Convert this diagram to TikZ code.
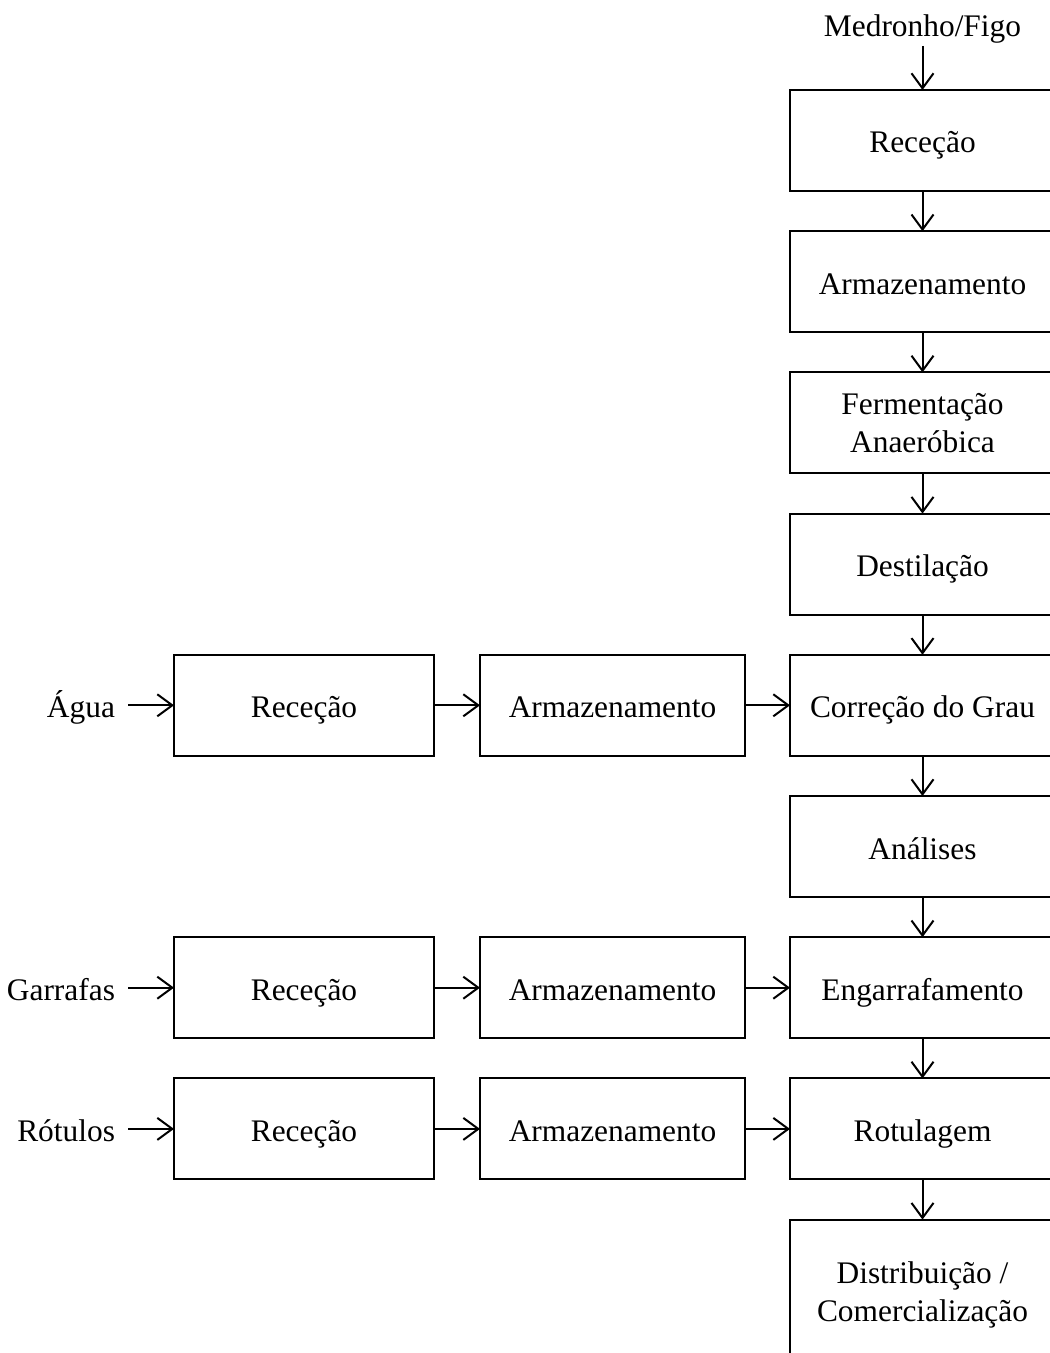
\documentclass[tikz,border=0pt]{standalone}
\usepackage{fontspec}
\setmainfont{Liberation Serif}
\usetikzlibrary{positioning,arrows.meta}

\begin{document}
\begin{tikzpicture}[
            node distance=20.1pt,
            box/.style={rectangle, draw, line width=1pt, outer sep=0pt, minimum width=132.5pt, minimum height=50.5pt, inner sep=0pt, text height=14pt, text depth=1.5pt, align=center, font=\fontsize{15.7pt}{19pt}\selectfont},
            twoline/.style={text height=, text depth=},
            sidebox/.style={box, minimum width=130pt},
            input/.style={inner xsep=6.5pt, inner ysep=3pt, outer sep=0pt, text height=14pt, text depth=1.5pt, font=\fontsize{15.7pt}{19pt}\selectfont},
            arrow/.style={-{Straight Barb[length=7.5pt,width=11pt]}, line width=1pt}
            ]
            \useasboundingbox (0,0) rectangle (524.5pt,-676.5pt);

            % Main column
            \node[box, anchor=north west] (reception) at (395pt,-45pt) {Receção};
            \node[input, above=22pt of reception] (fruit) {Medronho/Figo};
            \node[box, below=of reception] (storage) {Armazenamento};
            \node[box, twoline, below=of storage] (fermentation) {Fermentação\\Anaeróbica};
            \node[box, below=of fermentation] (distillation) {Destilação};
            \node[box, below=of distillation] (correction) {Correção do Grau};
            \node[box, below=of correction] (analysis) {Análises};
            \node[box, below=of analysis] (bottling) {Engarrafamento};
            \node[box, below=of bottling] (labelling) {Rotulagem};
            \node[box, twoline, below=of labelling, minimum height=75pt] (distribution) {Distribuição /\\Comercialização};

            % Water line
            \node[box, left=22.5pt of correction] (waterstorage) {Armazenamento};
            \node[sidebox, left=23pt of waterstorage] (waterreception) {Receção};
            \node[input, left=23pt of waterreception] (water) {Água};

            % Bottle line
            \node[box, left=22.5pt of bottling] (bottlestorage) {Armazenamento};
            \node[sidebox, left=23pt of bottlestorage] (bottlereception) {Receção};
            \node[input, left=23pt of bottlereception] (bottles) {Garrafas};

            % Label line
            \node[box, left=22.5pt of labelling] (labelstorage) {Armazenamento};
            \node[sidebox, left=23pt of labelstorage] (labelreception) {Receção};
            \node[input, left=23pt of labelreception] (labels) {Rótulos};

            % Arrows
            \draw[arrow] (fruit) -- (reception);
            \draw[arrow] (reception) -- (storage);
            \draw[arrow] (storage) -- (fermentation);
            \draw[arrow] (fermentation) -- (distillation);
            \draw[arrow] (distillation) -- (correction);
            \draw[arrow] (correction) -- (analysis);
            \draw[arrow] (analysis) -- (bottling);
            \draw[arrow] (bottling) -- (labelling);
            \draw[arrow] (labelling) -- (distribution);
            \draw[arrow] (water) -- (waterreception);
            \draw[arrow] (waterreception) -- (waterstorage);
            \draw[arrow] (waterstorage) -- (correction);
            \draw[arrow] (bottles) -- (bottlereception);
            \draw[arrow] (bottlereception) -- (bottlestorage);
            \draw[arrow] (bottlestorage) -- (bottling);
            \draw[arrow] (labels) -- (labelreception);
            \draw[arrow] (labelreception) -- (labelstorage);
            \draw[arrow] (labelstorage) -- (labelling);

        \end{tikzpicture}
\end{document}
